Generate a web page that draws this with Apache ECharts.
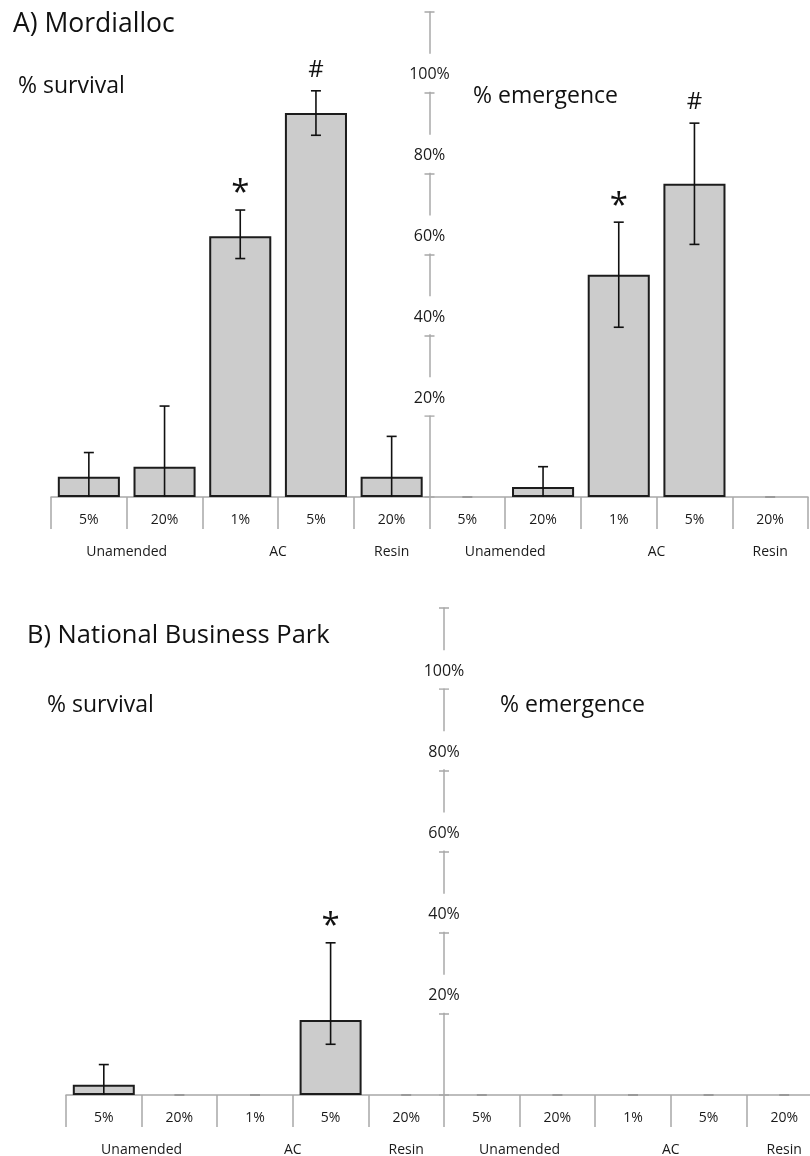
<!DOCTYPE html>
<html>
<head>
<meta charset="utf-8">
<script src="https://cdn.jsdelivr.net/npm/echarts@6/dist/echarts.min.js"></script>
<style>
  html, body { margin: 0; padding: 0; background: #fff; }
  #chart { width: 810px; height: 1156px; }
</style>
</head>
<body>
<div id="chart"></div>
<script>
// ---- data ----
const subCategories = ['5%', '20%', '1%', '5%', '20%', '5%', '20%', '1%', '5%', '20%'];
const groupLabels = ['Unamended', 'AC', 'Resin', 'Unamended', 'AC', 'Resin'];
const groupSizes = [2, 2, 1, 2, 2, 1];
const yTickLabels = ['', '20%', '40%', '60%', '80%', '100%', ''];
const panelTitles = ['A) Mordialloc', 'B) National Business Park'];
const measureTitles = ['% survival', '% emergence'];

// A) Mordialloc
const mordSurvival = [5, 7.5, 64.5, 95, 5];
const mordSurvivalErrUp = [6, 15, 6.5, 5.5, 10];
const mordSurvivalErrDown = [6, 15, 5.5, 5.5, 10];
const mordEmergence = [0, 2.5, 55, 77.5, 0];
const mordEmergenceErrUp = [0, 5, 13, 15, 0];
const mordEmergenceErrDown = [0, 5, 13, 15, 0];
const mordMarks = ['', '', '*', '#', '', '', '', '*', '#', ''];

// B) National Business Park
const nbpSurvival = [2.5, 0, 0, 18.5, 0];
const nbpSurvivalErrUp = [5, 0, 0, 19, 0];
const nbpSurvivalErrDown = [5, 0, 0, 6, 0];
const nbpEmergence = [0, 0, 0, 0, 0];
const nbpEmergenceErrUp = [0, 0, 0, 0, 0];
const nbpEmergenceErrDown = [0, 0, 0, 0, 0];
const nbpMarks = ['', '', '', '*', '', '', '', '', '', ''];

// ---- styling ----
const FONT = "'Open Sans', 'Noto Sans', sans-serif";
const AXIS_GRAY = '#a8a8a8';
const BAR_FILL = '#cccccc';
const BAR_EDGE = '#1c1c1c';

// group boundaries / centres on a 0..10 scale, derived from group sizes
const groupBounds = [0];
const groupCenters = [];
groupSizes.forEach(function (n) {
  const start = groupBounds[groupBounds.length - 1];
  groupCenters.push(start + n / 2);
  groupBounds.push(start + n);
});

function makeErrorRenderer(marks) {
  return function (params, api) {
    const i = api.value(0);
    const v = api.value(1);
    const up = api.value(2);
    const dn = api.value(3);
    const capW = 10;
    const hi = api.coord([i, v + up]);
    const lowVal = Math.max(0, v - dn);
    const lo = api.coord([i, lowVal]);
    const x = hi[0];
    const children = [];
    const ls = { stroke: '#111', lineWidth: 1.6 };
    if (up === 0 && dn === 0) {
      children.push({ type: 'line', shape: { x1: x - capW / 2, y1: hi[1], x2: x + capW / 2, y2: hi[1] },
        style: { stroke: '#9a9a9a', lineWidth: 2 } });
    } else {
      children.push({ type: 'line', shape: { x1: x, y1: lo[1], x2: x, y2: hi[1] }, style: ls });
      children.push({ type: 'line', shape: { x1: x - capW / 2, y1: hi[1], x2: x + capW / 2, y2: hi[1] }, style: ls });
      if (lowVal > 0) {
        children.push({ type: 'line', shape: { x1: x - capW / 2, y1: lo[1], x2: x + capW / 2, y2: lo[1] }, style: ls });
      }
    }
    const m = marks[i];
    if (m) {
      const isStar = m === '*';
      children.push({ type: 'text', x: x, y: hi[1] - (isStar ? 16 : 21),
        style: { text: m, fontFamily: FONT, fontSize: isStar ? 33 : 24, fill: '#111',
          textAlign: 'center', textVerticalAlign: 'middle' } });
    }
    return { type: 'group', children: children };
  };
}

function panelSeries(idx, survival, emergence, errUp, errDown, marks) {
  const values = survival.concat(emergence);
  return [
    {
      type: 'bar', xAxisIndex: idx * 2, yAxisIndex: idx * 2, barWidth: '82%',
      itemStyle: { color: BAR_FILL, borderColor: BAR_EDGE, borderWidth: 2 },
      data: values.map(function (v) { return v === 0 ? { value: 0, itemStyle: { borderWidth: 0 } } : v; }),
      silent: true, z: 2
    },
    {
      type: 'custom', xAxisIndex: idx * 2, yAxisIndex: idx * 2,
      renderItem: makeErrorRenderer(marks),
      encode: { x: 0, y: 1 },
      data: values.map(function (v, i) { return [i, v, errUp[i], errDown[i]]; }),
      silent: true, z: 3
    }
  ];
}

function panelXAxes(gridIndex) {
  const lineStyle = { color: AXIS_GRAY, width: 1.5 };
  return [
    {
      type: 'category', gridIndex: gridIndex, data: subCategories, position: 'bottom',
      axisLine: { show: true, onZero: false, lineStyle: lineStyle },
      axisTick: { show: true, interval: 0, length: 32, lineStyle: lineStyle },
      axisLabel: { interval: 0, margin: 16, fontFamily: FONT, fontSize: 14, color: '#1a1a1a' }
    },
    {
      type: 'value', gridIndex: gridIndex, min: 0, max: 10, position: 'bottom', offset: 35,
      splitLine: { show: false },
      axisLine: { show: false },
      axisTick: { show: true, customValues: groupBounds, length: 28, lineStyle: lineStyle },
      axisLabel: {
        customValues: groupCenters, margin: 13, fontFamily: FONT, fontSize: 14, color: '#1a1a1a',
        formatter: function (v) { const k = groupCenters.indexOf(v); return k >= 0 ? groupLabels[k] : ''; }
      }
    }
  ];
}

function panelYAxes(gridIndex, offset) {
  const lineStyle = { color: AXIS_GRAY, width: 1.5 };
  const common = { type: 'value', gridIndex: gridIndex, min: 0, max: 120, interval: 20,
    position: 'left', offset: offset, splitLine: { show: false } };
  return [
    Object.assign({}, common, {
      axisLine: { show: true, lineStyle: lineStyle },
      axisTick: { show: true, length: 5, lineStyle: lineStyle },
      axisLabel: {
        show: true, margin: 0, align: 'center', verticalAlign: 'middle',
        // the label sits just above its tick, on a white patch that breaks the axis line
        formatter: function (val, i) { const t = yTickLabels[i]; return t ? '{t|' + t + '}\n{s| }' : ''; },
        rich: {
          t: { fontFamily: FONT, fontSize: 16, lineHeight: 16, color: '#1a1a1a',
            backgroundColor: '#fff', padding: [13, 2, 9, 2] },
          s: { fontSize: 10, lineHeight: 40, height: 40 }
        }
      }
    }),
    Object.assign({}, common, {
      axisLine: { show: false },
      axisTick: { show: true, inside: true, length: 5, lineStyle: lineStyle },
      axisLabel: { show: false }
    })
  ];
}

function label(text, x, y, size) {
  return { type: 'text', x: x, y: y,
    style: { text: text, fontFamily: FONT, fontSize: size, fill: '#111', textAlign: 'left', textVerticalAlign: 'middle' } };
}

const chart = echarts.init(document.getElementById('chart'), null, { renderer: 'canvas' });
chart.setOption({
  animation: false,
  backgroundColor: '#fff',
  grid: [
    { left: 51, top: 12, width: 757, height: 485, outerBoundsMode: 'none' },
    { left: 66, top: 608, width: 756, height: 487, outerBoundsMode: 'none' }
  ],
  xAxis: panelXAxes(0).concat(panelXAxes(1)),
  yAxis: panelYAxes(0, -378.5).concat(panelYAxes(1, -378)),
  series: panelSeries(0, mordSurvival, mordEmergence,
      mordSurvivalErrUp.concat(mordEmergenceErrUp), mordSurvivalErrDown.concat(mordEmergenceErrDown), mordMarks)
    .concat(panelSeries(1, nbpSurvival, nbpEmergence,
      nbpSurvivalErrUp.concat(nbpEmergenceErrUp), nbpSurvivalErrDown.concat(nbpEmergenceErrDown), nbpMarks)),
  graphic: [
    label(panelTitles[0], 13, 24, 26.5),
    label(measureTitles[0], 18, 86, 23),
    label(measureTitles[1], 473, 96, 23),
    label(panelTitles[1], 27, 636, 25.5),
    label(measureTitles[0], 47, 705, 23),
    label(measureTitles[1], 500, 705, 23)
  ]
});
</script>
</body>
</html>
